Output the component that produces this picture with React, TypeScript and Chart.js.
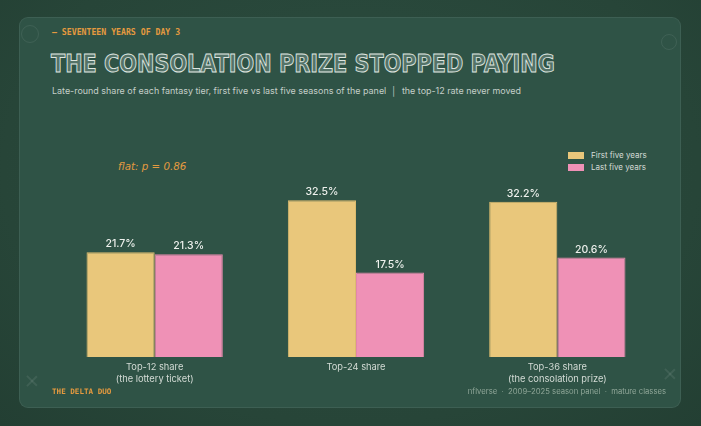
import { useEffect, useRef } from "react"
import { Chart, registerables } from "chart.js"

Chart.register(...registerables)

const categories = [
  ["Top-12 share", "(the lottery ticket)"],
  ["Top-24 share"],
  ["Top-36 share", "(the consolation prize)"],
]
const seriesNames = ["First five years", "Last five years"]
const firstFive = [21.7, 32.5, 32.2]
const lastFive = [21.3, 17.5, 20.6]
const seriesColors = ["#e9c77b", "#ef91b6"]
const seriesBorders = ["#dcbb6e", "#e287aa"]

const valueLabels = {
  id: "valueLabels",
  afterDatasetsDraw(chart: Chart) {
    const ctx = chart.ctx
    ctx.save()
    ctx.font = "500 10.5px Inter, sans-serif"
    ctx.fillStyle = "#eef1ed"
    ctx.textAlign = "center"
    ctx.textBaseline = "middle"
    chart.data.datasets.forEach((ds, i) => {
      const meta = chart.getDatasetMeta(i)
      meta.data.forEach((bar: any, j) => {
        ctx.fillText(`${(ds.data[j] as number).toFixed(1)}%`, bar.x, bar.y - 8)
      })
    })
    ctx.restore()
  },
}

function BarChart() {
  const chartRef = useRef<HTMLCanvasElement>(null)
  const chartInstance = useRef<Chart | null>(null)

  useEffect(() => {
    if (!chartRef.current) return
    if (chartInstance.current) chartInstance.current.destroy()
    const ctx = chartRef.current.getContext("2d")
    if (!ctx) return

    chartInstance.current = new Chart(ctx, {
      type: "bar",
      data: {
        labels: categories,
        datasets: [firstFive, lastFive].map((d, i) => ({
          label: seriesNames[i],
          data: d,
          backgroundColor: seriesColors[i],
          borderColor: seriesBorders[i],
          borderWidth: 1,
          categoryPercentage: 0.677,
          barPercentage: 1.0,
        })),
      },
      options: {
        animation: false,
        responsive: true,
        maintainAspectRatio: false,
        layout: { padding: { top: 14, left: 0, right: 0, bottom: 0 } },
        plugins: {
          legend: { display: false },
          tooltip: { enabled: false },
        },
        scales: {
          x: {
            grid: { display: false, drawTicks: false },
            border: { display: false },
            ticks: {
              color: "#d3dbd5",
              padding: 5,
              font: { family: "Inter, sans-serif", size: 9.3, lineHeight: 1.2 },
            },
            afterFit: (scale: any) => {
              scale.height = 43
            },
          },
          y: {
            display: false,
            min: 0,
            max: 40,
          },
        },
      },
      plugins: [valueLabels],
    })

    return () => {
      if (chartInstance.current) {
        chartInstance.current.destroy()
        chartInstance.current = null
      }
    }
  }, [])

  return (
    <div style={{ position: "absolute", left: 54, top: 150, width: 604, height: 250 }}>
      <canvas ref={chartRef}></canvas>
    </div>
  )
}

const mono = "'DejaVu Sans Mono', monospace"
const sans = "Inter, 'Noto Sans', sans-serif"

function Cross({ x, y }: { x: number; y: number }) {
  return (
    <div style={{ position: "absolute", left: x - 6, top: y - 6, width: 12, height: 12 }}>
      <div style={{ position: "absolute", left: 5, top: -1, width: 1.5, height: 14, background: "rgba(255,255,255,0.08)", transform: "rotate(45deg)" }} />
      <div style={{ position: "absolute", left: 5, top: -1, width: 1.5, height: 14, background: "rgba(255,255,255,0.08)", transform: "rotate(-45deg)" }} />
    </div>
  )
}

function Ring({ x, y, r }: { x: number; y: number; r: number }) {
  return (
    <div
      style={{
        position: "absolute",
        left: x - r,
        top: y - r,
        width: r * 2,
        height: r * 2,
        borderRadius: "50%",
        border: "1px solid rgba(255,255,255,0.08)",
        boxSizing: "border-box",
      }}
    />
  )
}

export default function App() {
  return (
    <div
      style={{
        position: "relative",
        width: 701,
        height: 426,
        overflow: "hidden",
        background: "radial-gradient(ellipse at 50% 40%, #2c4d40 0%, #274538 70%, #233f33 100%)",
      }}
    >
      <style>{"body{margin:0}"}</style>
      <div
        style={{
          position: "absolute",
          left: 19,
          top: 17,
          width: 662,
          height: 391,
          borderRadius: 9,
          background: "#2f5346",
          border: "1px solid rgba(255,255,255,0.07)",
          boxSizing: "border-box",
        }}
      />
      <Ring x={30} y={34} r={9} />
      <Ring x={669} y={42} r={8} />
      <Cross x={32} y={381} />
      <Cross x={670} y={374} />

      <div style={{ position: "absolute", left: 52, top: 27, fontFamily: mono, fontWeight: 700, fontSize: 8.2, color: "#e59a3f", whiteSpace: "nowrap" }}>
        — SEVENTEEN YEARS OF DAY 3
      </div>
      <div
        style={{
          position: "absolute",
          left: 51,
          top: 49,
          fontFamily: "'Liberation Sans Narrow', 'DejaVu Sans Condensed', sans-serif",
          fontWeight: 700,
          fontSize: 25,
          lineHeight: "30px",
          color: "rgba(225,232,226,0.22)",
          WebkitTextStroke: "0.9px #dfe6e0",
          whiteSpace: "nowrap",
          transform: "scaleX(0.925)",
          transformOrigin: "0 0",
        }}
      >
        THE CONSOLATION PRIZE STOPPED PAYING
      </div>
      <div style={{ position: "absolute", left: 52, top: 85, fontFamily: sans, fontSize: 8.95, color: "#c5cfc9", whiteSpace: "nowrap" }}>
        Late-round share of each fantasy tier, first five vs last five seasons of the panel &nbsp;│&nbsp; the top-12 rate never moved
      </div>

      <div
        style={{
          position: "absolute",
          left: 118,
          top: 160,
          fontFamily: "'DejaVu Sans', sans-serif",
          fontStyle: "italic",
          fontSize: 10.3,
          color: "#e39a40",
          whiteSpace: "nowrap",
        }}
      >
        flat: p = 0.86
      </div>

      {seriesNames.map((name, i) => (
        <div key={name} style={{ position: "absolute", left: 568, top: 150 + i * 12, display: "flex", alignItems: "center", whiteSpace: "nowrap" }}>
          <div style={{ width: 16, height: 7, background: seriesColors[i], marginRight: 7 }} />
          <span style={{ fontFamily: sans, fontSize: 8, color: "#d5dcd6" }}>{name}</span>
        </div>
      ))}

      <BarChart />

      <div style={{ position: "absolute", left: 52, top: 387, fontFamily: mono, fontWeight: 700, fontSize: 7.6, color: "#e59a3f", whiteSpace: "nowrap" }}>
        THE DELTA DUO
      </div>
      <div style={{ position: "absolute", right: 35, top: 387, fontFamily: sans, fontSize: 7.7, color: "#8ea597", whiteSpace: "nowrap" }}>
        nflverse &nbsp;·&nbsp; 2009–2025 season panel &nbsp;·&nbsp; mature classes
      </div>
    </div>
  )
}
